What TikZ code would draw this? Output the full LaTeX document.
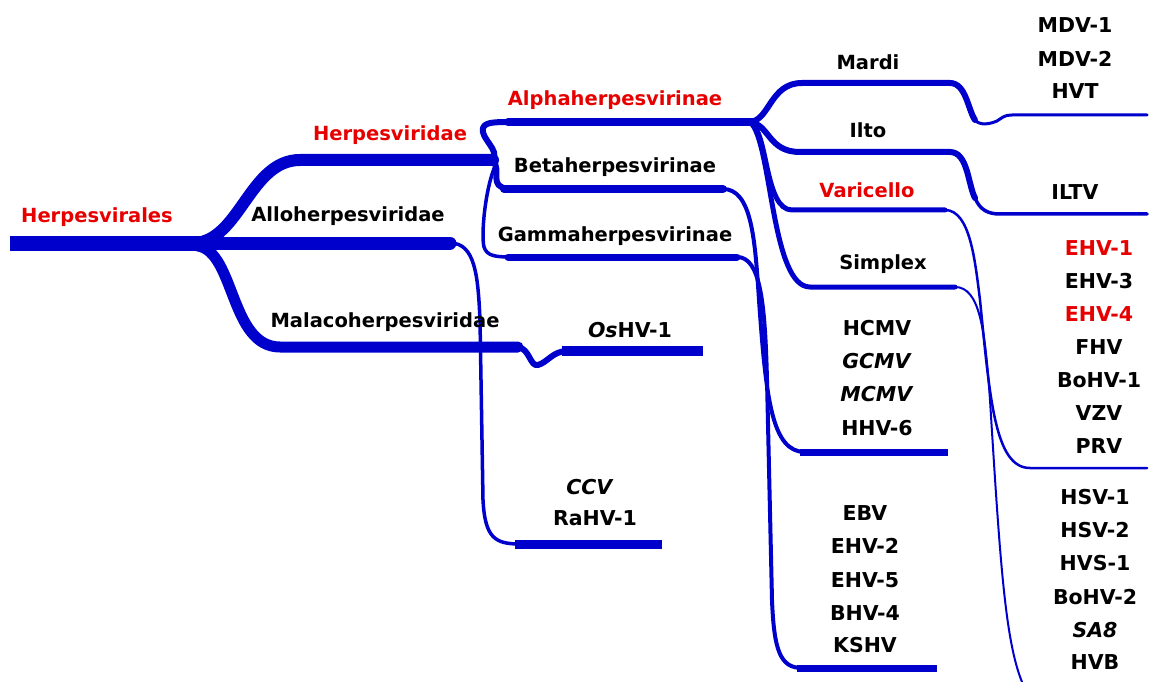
\documentclass[tikz,border=0pt]{standalone}
\usepackage{fontspec}
\setmainfont{DejaVu Sans}
\definecolor{hblue}{RGB}{0,0,205}
\definecolor{hred}{RGB}{230,0,0}
\tikzset{
  br/.style={draw=hblue, line cap=round, line join=round},
  lab/.style={font=\bfseries\fontsize{19.5}{21}\selectfont, inner sep=0pt, text=black},
  vir/.style={font=\bfseries\fontsize{20.5}{22}\selectfont, inner sep=0pt, text=black},
  redt/.style={text=hred}
}
\begin{document}
\begin{tikzpicture}[x=1pt,y=-1pt]
\useasboundingbox (0,0) rectangle (1163,682);
% ---------- branches ----------
% trunk
\draw[br,line width=15pt,line cap=butt] (10,243) -- (205,243);
% Herpesviridae
\draw[br,line width=12pt] (195,243) .. controls (240,240) and (250,160) .. (300,160) -- (493,160);
% Alloherpesviridae
\draw[br,line width=13pt] (195,243) -- (450,243);
\draw[br,line width=3.5pt] (450,243) .. controls (475,243) and (478,275) .. (480,320) -- (483,500) .. controls (485,538) and (495,544) .. (520,544);
\draw[br,line width=9pt,line cap=butt] (515,544) -- (662,544);
% Malacoherpesviridae
\draw[br,line width=11pt] (198,246) .. controls (235,252) and (230,347) .. (280,347) -- (518,347);
\draw[br,line width=6pt] (518,347) .. controls (530,349) and (530,367) .. (538,365) .. controls (548,362) and (552,352) .. (566,351);
\draw[br,line width=10pt,line cap=butt] (562,351) -- (703,351);
% Herpesviridae -> subfamilies
\draw[br,line width=6pt] (493,160) .. controls (500,150) and (480,138) .. (483,128) .. controls (485,122) and (495,122) .. (512,122);
\draw[br,line width=8pt] (508,122) -- (753,122);
\draw[br,line width=6pt] (493,160) .. controls (502,172) and (488,186) .. (508,189);
\draw[br,line width=8pt] (504,189) -- (723,189);
\draw[br,line width=3.5pt] (495,166) .. controls (485,190) and (481,235) .. (484,247) .. controls (487,256) and (495,257) .. (512,257);
\draw[br,line width=7pt] (508,257) -- (737,257);
% Beta
\draw[br,line width=4pt] (723,189) .. controls (752,189) and (755,240) .. (759,300) .. controls (766,400) and (772,452) .. (805,452);
\draw[br,line width=7pt,line cap=butt] (800,452) -- (948,452);
% Gamma
\draw[br,line width=4pt] (737,257) .. controls (760,257) and (765,300) .. (767,380) -- (772,600) .. controls (774,650) and (780,668) .. (802,668);
\draw[br,line width=7pt,line cap=butt] (797,668) -- (937,668);
% Alpha sub-branches
\draw[br,line width=6pt] (750,122) .. controls (770,120) and (770,83) .. (802,83) -- (950,83) .. controls (966,83) and (968,110) .. (975,120);
\draw[br,line width=3pt] (975,120) .. controls (980,126) and (990,124) .. (997,121) .. controls (1003,117) and (1005,115) .. (1012,115) -- (1147,115);
\draw[br,line width=6pt] (750,122) .. controls (770,125) and (768,152) .. (800,152) -- (950,152) .. controls (968,152) and (968,185) .. (975,198);
\draw[br,line width=3.5pt] (975,198) .. controls (980,210) and (988,214) .. (1000,214) -- (1147,214);
\draw[br,line width=5pt] (752,124) .. controls (768,135) and (765,210) .. (792,210) -- (945,210);
\draw[br,line width=2.5pt] (945,210) .. controls (970,210) and (975,260) .. (980,300) .. controls (990,400) and (995,468) .. (1030,468) -- (1147,468);
\draw[br,line width=5pt] (752,124) .. controls (772,150) and (772,287) .. (810,287) -- (955,287);
\draw[br,line width=2pt] (955,287) .. controls (980,287) and (985,330) .. (990,400) .. controls (1000,560) and (1005,640) .. (1022,682);
% ---------- labels ----------
\node[lab,redt] (herpesvirales) at (97,217) {Herpesvirales};
\node[lab,redt] (herpesviridae) at (390,135) {Herpesviridae};
\node[lab] (allo) at (348,216) {Alloherpesviridae};
\node[lab] (malaco) at (385,322) {Malacoherpesviridae};
\node[vir] (oshv) at (630,330) {\textit{Os}HV-1};
\node[vir] (ccv) at (590,487) {\textit{CCV}};
\node[vir] (rahv) at (595,518) {RaHV-1};
\node[lab,redt] (alpha) at (615,100) {Alphaherpesvirinae};
\node[lab] (beta) at (615,167) {Betaherpesvirinae};
\node[lab] (gamma) at (615,236) {Gammaherpesvirinae};
\node[lab] (mardi) at (868,62) {Mardi};
\node[lab] (ilto) at (868,130) {Ilto};
\node[lab,redt] (varicello) at (867,190) {Varicello};
\node[lab] (simplex) at (883,264) {Simplex};
\node[vir] (mdv1) at (1075,25) {MDV-1};
\node[vir] (mdv2) at (1075,59) {MDV-2};
\node[vir] (hvt) at (1075,91) {HVT};
\node[vir] (iltv) at (1075,192) {ILTV};
\node[vir,redt] (ehv1) at (1099,248) {EHV-1};
\node[vir] (ehv3) at (1099,281) {EHV-3};
\node[vir,redt] (ehv4) at (1099,314) {EHV-4};
\node[vir] (fhv) at (1099,347) {FHV};
\node[vir] (bohv1) at (1099,380) {BoHV-1};
\node[vir] (vzv) at (1099,413) {VZV};
\node[vir] (prv) at (1099,446) {PRV};
\node[vir] (hsv1) at (1095,497) {HSV-1};
\node[vir] (hsv2) at (1095,530) {HSV-2};
\node[vir] (hvs1) at (1095,563) {HVS-1};
\node[vir] (bohv2) at (1095,597) {BoHV-2};
\node[vir] (sa8) at (1095,630) {\textit{SA8}};
\node[vir] (hvb) at (1095,662) {HVB};
\node[vir] (hcmv) at (877,328) {HCMV};
\node[vir] (gcmv) at (877,361) {\textit{GCMV}};
\node[vir] (mcmv) at (877,394) {\textit{MCMV}};
\node[vir] (hhv6) at (877,428) {HHV-6};
\node[vir] (ebv) at (865,513) {EBV};
\node[vir] (ehv2) at (865,546) {EHV-2};
\node[vir] (ehv5) at (865,580) {EHV-5};
\node[vir] (bhv4) at (865,613) {BHV-4};
\node[vir] (kshv) at (865,645) {KSHV};
\end{tikzpicture}
\end{document}
